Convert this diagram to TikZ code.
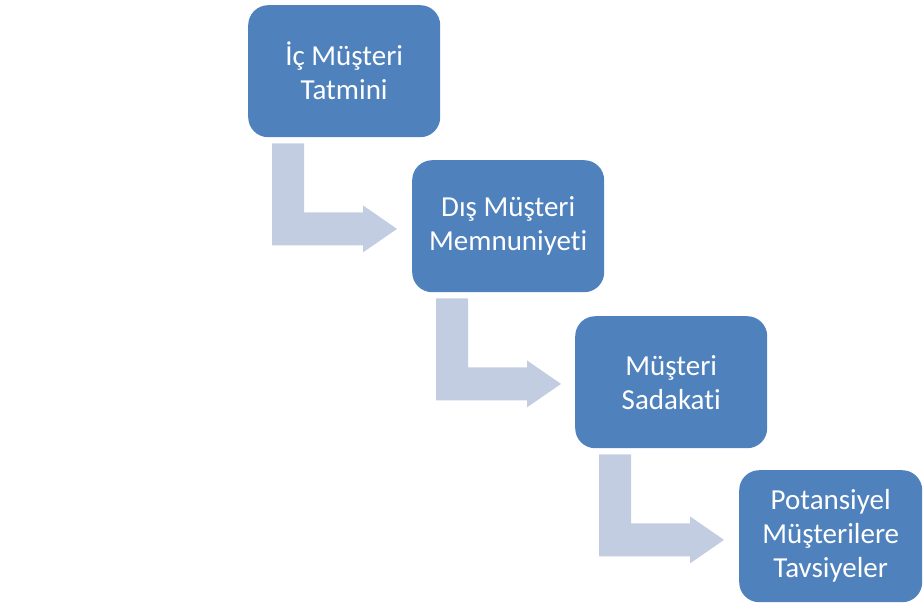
\documentclass[tikz,border=0pt]{standalone}
\usepackage{fontspec}
\setmainfont{Carlito}[Ligatures=NoCommon]
\usetikzlibrary{calc}
\definecolor{boxblue}{HTML}{4F81BD}
\definecolor{arrowgray}{HTML}{C3CDE2}
\tikzset{
  stagebox/.style={draw=none, fill=boxblue, rounded corners=20pt, minimum width=192pt, minimum height=132pt,
    inner sep=0pt, anchor=north west, text=white, align=center, font=\fontsize{29}{34}\selectfont},
}
\newcommand{\bentarrow}[1]{%
  \fill[arrowgray] ($(#1.south west)+(24,-6)$) -- ($(#1.south west)+(56,-6)$) -- ($(#1.south west)+(56,-75)$)
    -- ($(#1.south west)+(115,-75)$) -- ($(#1.south west)+(115,-68)$) -- ($(#1.south west)+(149,-91.5)$)
    -- ($(#1.south west)+(115,-115)$) -- ($(#1.south west)+(115,-108)$) -- ($(#1.south west)+(24,-108)$) -- cycle;}
\begin{document}
\begin{tikzpicture}[x=1pt,y=1pt]
\useasboundingbox (0,0) rectangle (923,-608);
\node[stagebox] (b1) at (248,-5) {İç Müşteri\\Tatmini};
\node[stagebox] (b2) at (412,-160) {Dış Müşteri\\Memnuniyeti};
\node[stagebox] (b3) at (575,-316) {Müşteri\\Sadakati};
\node[stagebox, minimum width=183pt] (b4) at (739,-470) {Potansiyel\\Müşterilere\\Tavsiyeler};
\bentarrow{b1}
\bentarrow{b2}
\bentarrow{b3}
\end{tikzpicture}
\end{document}
